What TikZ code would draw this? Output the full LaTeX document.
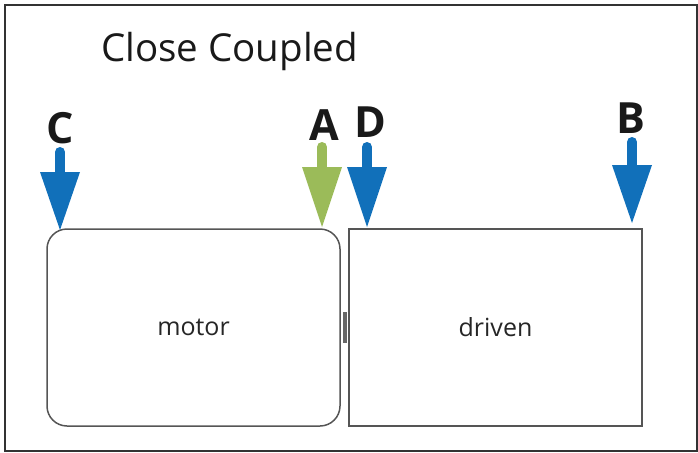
\documentclass[tikz,border=0pt]{standalone}
\usepackage{fontspec}
\setmainfont{Open Sans}
\definecolor{arrblue}{HTML}{1170BA}
\definecolor{arrgreen}{HTML}{9BBB59}
\definecolor{boxgray}{HTML}{555555}
\begin{document}
\begin{tikzpicture}[x=1pt,y=-1pt,
  unitbox/.style={draw=boxgray, line width=1.5pt, minimum width=293pt, minimum height=197pt, font=\fontsize{25}{29}\selectfont, text=black!85, inner sep=0pt},
  letterlbl/.style={font=\bfseries\fontsize{43}{47}\selectfont, text=black!90, anchor=base, inner sep=0pt},
  shaft/.style={line width=10pt, line cap=round},
]
\useasboundingbox (0,0) rectangle (698,452);
\draw[line width=2pt, draw=black!80] (4.5,5) rectangle (696.5,451);
\node[anchor=base west, inner sep=0pt, font=\fontsize{38.5}{42}\selectfont, text=black!90] (title) at (101,62) {Close Coupled};
\node[unitbox, rounded corners=20pt] (motor) at (193.5,327.5) {motor};
\node[unitbox] (driven) at (495.5,327.5) {driven};
\node[fill=boxgray!90, minimum width=4pt, minimum height=31pt, inner sep=0pt] (coupling) at (345,327.5) {};
% C
\node[letterlbl] (lc) at (60,143) {C};
\draw[shaft, arrblue] (60,152) -- (60,176);
\fill[arrblue] (40,172) -- (80,172) -- (60,230) -- cycle;
% A
\node[letterlbl] (la) at (324,140) {A};
\draw[shaft, arrgreen] (322,147) -- (322,171);
\fill[arrgreen] (302,167) -- (342,167) -- (322,227) -- cycle;
% D
\node[letterlbl] (ld) at (370,137) {D};
\draw[shaft, arrblue] (367,147) -- (367,171);
\fill[arrblue] (347,167) -- (387,167) -- (367,227) -- cycle;
% B
\node[letterlbl] (lb) at (631,133) {B};
\draw[shaft, arrblue] (632,142) -- (632,169);
\fill[arrblue] (612,165) -- (652,165) -- (632,223) -- cycle;
\end{tikzpicture}
\end{document}
